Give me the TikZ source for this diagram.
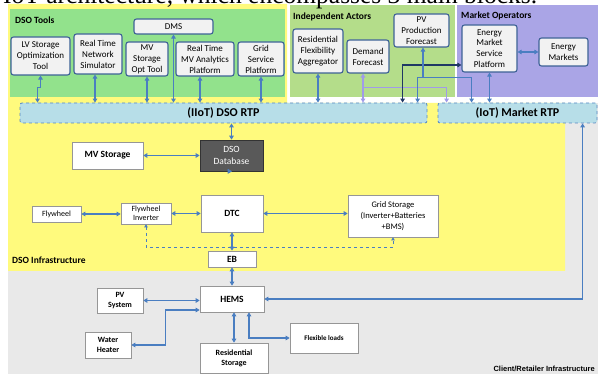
\documentclass[tikz,border=0pt]{standalone}
\usepackage{fontspec}
\setmainfont{Carlito}
\newfontfamily\capfont{Liberation Serif}
\newfontfamily\arfont{Liberation Sans}
\usetikzlibrary{arrows.meta,calc}
\definecolor{yel}{RGB}{255,250,125}
\definecolor{gtool}{RGB}{146,226,140}
\definecolor{gind}{RGB}{180,221,138}
\definecolor{purp}{RGB}{170,165,230}
\definecolor{gbg}{RGB}{233,233,233}
\definecolor{tfill}{RGB}{242,242,242}
\definecolor{tborder}{RGB}{62,98,150}
\definecolor{pborder}{RGB}{150,150,150}
\definecolor{rtpfill}{RGB}{183,222,232}
\definecolor{rtpb}{RGB}{85,135,195}
\definecolor{cblue}{RGB}{74,126,193}
\definecolor{lpurp}{RGB}{160,155,232}
\definecolor{navy}{RGB}{31,56,100}
\definecolor{dbfill}{RGB}{89,89,89}
\begin{document}
\begin{tikzpicture}[x=1pt,y=-1pt,
  tool/.style={draw=tborder, line width=1.1pt, fill=tfill, rounded corners=2.5pt, align=center, inner sep=0pt, font=\fontsize{9}{11}\selectfont},
  plain/.style={draw=pborder, line width=0.6pt, fill=white, align=center, inner sep=0pt},
  rtp/.style={draw=rtpb, dashed, line width=0.8pt, fill=rtpfill, rounded corners=2pt, inner sep=0pt, font=\bfseries\fontsize{12}{13}\selectfont},
  conn/.style={draw=cblue, line width=1.3pt},
  dbl/.style={{Triangle[length=4pt,width=4.5pt]}-{Triangle[length=4pt,width=4.5pt]}},
  endarr/.style={-{Triangle[length=4pt,width=4.5pt]}},
  startarr/.style={{Triangle[length=4pt,width=4.5pt]}-},
  region/.style={font=\bfseries\fontsize{9.5}{11}\selectfont, anchor=west, inner sep=0pt},
  lbl/.style={font=\bfseries\fontsize{9.5}{11}\selectfont},
  small/.style={font=\fontsize{8}{9.5}\selectfont},
  smallb/.style={font=\bfseries\fontsize{8}{10}\selectfont}
]
\useasboundingbox (0,0) rectangle (598,374);
% backgrounds
\fill[gbg] (8,103) rectangle (598,374);
\fill[yel] (8,4) -- (287,4) -- (287,103) -- (565,103) -- (565,271) -- (8,271) -- cycle;
\fill[gtool] (10,9) rectangle (285,97);
\fill[gind] (290,5) rectangle (455,97);
\fill[purp] (457,5) rectangle (598,97);
\node[anchor=base west, inner sep=0pt, font=\capfont\fontsize{25.5}{26}\selectfont] (cap) at (3,4) {IoT architecture, which encompasses 3 main blocks.};
% region labels
\node[region] (ldso) at (15,20) {DSO Tools};
\node[region] (lind) at (293,17) {Independent Actors};
\node[region] (lmkt) at (461,16) {Market Operators};
\node[region] (linf) at (12,260) {DSO Infrastructure};
\node[anchor=east, inner sep=0pt, font=\arfont\bfseries\fontsize{7.5}{9}\selectfont] (lcli) at (595,369) {Client/Retailer Infrastructure};
% DSO tools
\node[tool, minimum width=79pt, minimum height=15pt] (dms) at (173.5,26.5) {DMS};
\node[tool, minimum width=59pt, minimum height=38pt] (lv) at (40.5,56) {LV Storage\\Optimization\\Tool};
\node[tool, minimum width=48pt, minimum height=40pt] (rtns) at (98,54) {Real Time\\Network\\Simulator};
\node[tool, minimum width=42pt, minimum height=34pt] (mvs) at (147,59) {MV\\Storage\\Opt Tool};
\node[tool, minimum width=58pt, minimum height=34pt] (rtmv) at (205,59) {Real Time\\MV Analytics\\Platform};
\node[tool, minimum width=46pt, minimum height=34pt] (gsp) at (261,59) {Grid\\Service\\Platform};
% independent actors
\node[tool, minimum width=50pt, minimum height=44pt] (rfa) at (318,51) {Residential\\Flexibility\\Aggregator};
\node[tool, minimum width=42pt, minimum height=33pt] (df) at (368,56.5) {Demand\\Forecast};
\node[tool, minimum width=55pt, minimum height=33pt] (pvf) at (421.5,30.5) {PV\\Production\\Forecast};
% market operators
\node[tool, minimum width=55pt, minimum height=47pt, font=\fontsize{9}{10.8}\selectfont] (emsp) at (489.5,48.5) {Energy\\Market\\Service\\Platform};
\node[tool, minimum width=49pt, minimum height=28pt] (em) at (563.5,52) {Energy\\Markets};
% RTPs
\node[rtp, minimum width=407pt, minimum height=20pt] (dsortp) at (223.5,113) {(IIoT) DSO RTP};
\node[rtp, minimum width=159pt, minimum height=20pt] (mrtp) at (517.5,113) {(IoT) Market RTP};
% DSO infrastructure
\node[plain, lbl, minimum width=71pt, minimum height=27pt] (mvstor) at (107.5,155.5) {MV Storage};
\node[draw=black!80, line width=0.6pt, fill=dbfill, text=white, align=center, inner sep=0pt, minimum width=63pt, minimum height=31pt, font=\fontsize{9.5}{11.5}\selectfont] (db) at (231.5,155.5) {DSO\\Database};
\node[plain, lbl, minimum width=62pt, minimum height=37pt] (dtc) at (232,213.5) {DTC};
\node[plain, small, minimum width=50pt, minimum height=21pt] (fi) at (146,213.5) {Flywheel\\Inverter};
\node[plain, small, minimum width=49pt, minimum height=16pt] (fw) at (56.5,214) {Flywheel};
\node[plain, font=\fontsize{8.5}{11}\selectfont, minimum width=90pt, minimum height=42pt] (gs) at (393,216) {Grid Storage\\(Inverter+Batteries\\+BMS)};
\node[plain, lbl, minimum width=48pt, minimum height=16pt] (eb) at (232,259) {EB};
% client / retailer
\node[plain, lbl, minimum width=64pt, minimum height=26pt] (hems) at (232,299) {HEMS};
\node[plain, smallb, minimum width=46pt, minimum height=25pt] (pvs) at (120,300.5) {PV\\System};
\node[plain, smallb, minimum width=46pt, minimum height=26pt] (wh) at (108,345) {Water\\Heater};
\node[plain, smallb, minimum width=68pt, minimum height=30pt] (rs) at (234,358) {Residential\\Storage};
\node[plain, font=\bfseries\fontsize{7}{8}\selectfont, minimum width=68pt, minimum height=30pt] (fl) at (324,338) {Flexible loads};
% connectors: DSO tools to DSO RTP
\draw[conn,dbl] (lv.south) -- ++(0,12) -- ++(-3,0) -- ($(lv.south |- dsortp.north)+(-3,0)$);
\draw[conn,dbl] ([xshift=-3pt]rtns.south) -- ([xshift=-3pt]rtns.south |- dsortp.north);
\draw[conn,dbl] (mvs.south) -- (mvs.south |- dsortp.north);
\draw[conn,dbl] (dms.south) -- (dms.south |- dsortp.north);
\draw[conn,dbl] ([xshift=-5pt]rtmv.south) -- ([xshift=-5pt]rtmv.south |- dsortp.north);
\draw[conn,dbl] (gsp.south) -- (gsp.south |- dsortp.north);
% independent actors
\draw[conn,dbl] (rfa.south) -- (rfa.south |- dsortp.north);
\draw[draw=lpurp, line width=1.3pt, dbl] ([xshift=-5pt]df.south) -- ([xshift=-5pt]df.south |- dsortp.north);
\coordinate (dfj) at ($(df.south)+(-5,14)$);
\draw[draw=lpurp, line width=1.3pt, endarr] (dfj) -| ($(mrtp.north west)+(9,0)$);
\draw[draw=navy, line width=1.3pt, dbl] ($(emsp.west)+(0,16.5)$) -| ($(dsortp.north west)+(383,0)$);
\coordinate (pvj) at ($(pvf.south)+(1.5,30)$);
\draw[conn,startarr] ([xshift=1.5pt]pvf.south) -- (pvj);
\draw[conn,endarr] (pvj) -| ($(dsortp.north west)+(398,0)$);
\draw[conn,endarr] (pvj) -| ($(mrtp.north west)+(34,0)$);
% market operators
\draw[conn,dbl] (emsp.south) -- (emsp.south |- mrtp.north);
\draw[conn,dbl] (em.west -| emsp.east) -- (em.west);
% DSO infrastructure
\draw[conn,dbl] (db.north |- dsortp.south) -- (db.north);
\draw[conn,dbl] (mvstor.east) -- (mvstor.east -| db.west);
\draw[conn,dbl] (db.south) -- (db.south -| dtc.north);
\draw[conn,dbl] (fw.east) -- (fw.east -| fi.west);
\draw[conn,dbl] (fi.east) -- (fi.east -| dtc.west);
\draw[conn,dbl] (dtc.east) -- (dtc.east -| gs.west);
\draw[draw=cblue, line width=0.6pt, dashed, {Triangle[length=3pt,width=3.5pt]}-{Triangle[length=3pt,width=3.5pt]}] (fi.south) -- ++(0,23) -| (gs.south);
\draw[conn,dbl] (dtc.south) -- (eb.north);
\draw[conn,dbl] (eb.south) -- (hems.north);
% client / retailer
\draw[conn,dbl] (pvs.east) -- (pvs.east -| hems.west);
\draw[conn,dbl] ($(hems.west)+(0,11)$) -- ++(-34,0) |- (wh.east);
\draw[conn,dbl] (rs.north |- hems.south) -- (rs.north);
\draw[conn,dbl] ([xshift=17pt]hems.south) |- (fl.west);
\draw[conn,dbl] (hems.east) -| ($(mrtp.south west)+(145,0)$);
\end{tikzpicture}
\end{document}
